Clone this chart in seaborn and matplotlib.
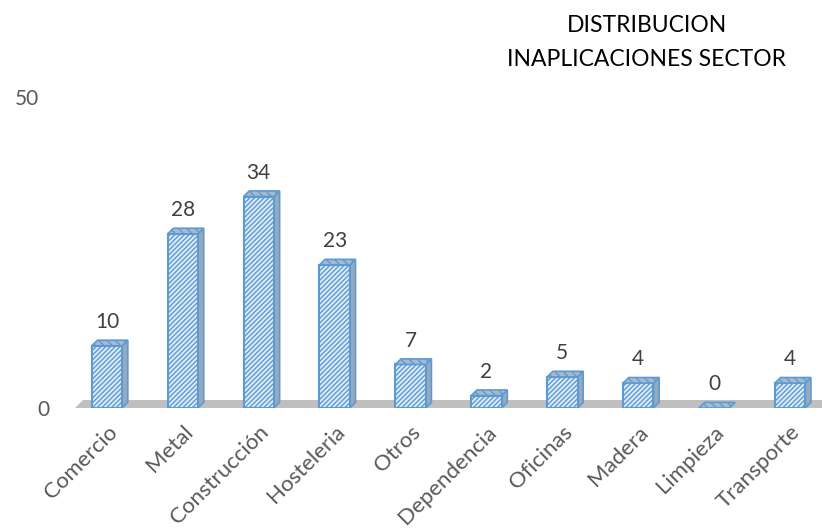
import numpy as np
import pandas as pd
import seaborn as sns
import matplotlib.pyplot as plt
from matplotlib.patches import Polygon
from matplotlib.transforms import ScaledTranslation, blended_transform_factory

sectores = ["Comercio", "Metal", "Construcción", "Hosteleria", "Otros",
            "Dependencia", "Oficinas", "Madera", "Limpieza", "Transporte"]
valores = [10, 28, 34, 23, 7, 2, 5, 4, 0, 4]
titulo = "DISTRIBUCION\nINAPLICACIONES SECTOR"

azul = "#5b9bd5"
relleno = "#deebf7"
gris_texto = "#595959"

sns.set_style("white")
plt.rcParams["font.family"] = ["Lato", "DejaVu Sans"]
plt.rcParams["hatch.linewidth"] = 1.0

df = pd.DataFrame({"sector": sectores, "valor": valores})

fig = plt.figure(figsize=(8.22, 5.29), dpi=100)
ax = fig.add_axes([69 / 822, (529 - 408) / 529, 759 / 822, 311 / 529])

sns.barplot(data=df, x="sector", y="valor", color=relleno, width=0.4,
            saturation=1, ax=ax, zorder=3)

# fake 3d depth for each bar
dx, dy = 0.075, 0.9
for p in ax.patches:
    p.set_edgecolor(azul)
    p.set_linewidth(1.5)
    p.set_hatch("///////")
    x0, w, h = p.get_x(), p.get_width(), p.get_height()
    top = [(x0, h), (x0 + w, h), (x0 + w + dx, h + dy), (x0 + dx, h + dy)]
    side = [(x0 + w, 0), (x0 + w + dx, dy), (x0 + w + dx, h + dy), (x0 + w, h)]
    ax.add_patch(Polygon(side, closed=True, facecolor="#9aa9b8", edgecolor=azul,
                         linewidth=1.2, zorder=2))
    ax.add_patch(Polygon(top, closed=True, facecolor="#a9b9cc", edgecolor=azul,
                         linewidth=1.2, hatch="\\\\\\\\", zorder=4))
    ax.annotate(f"{h:.0f}", (x0 + w / 2, h + dy), xytext=(0, 6),
                textcoords="offset points", ha="center", va="bottom",
                fontsize=15, color="#404040")

# gray floor
trans = blended_transform_factory(ax.transAxes, ax.transData)
floor = Polygon([(0.008, 0), (1, 0), (1, 1.3), (0.018, 1.3)], closed=True,
                facecolor="#bfbfbf", edgecolor="none", transform=trans, zorder=1)
ax.add_patch(floor)

ax.set_xlim(-0.5, 9.5)
ax.set_ylim(0, 50)
ax.set_yticks([0, 50])
ax.set_yticklabels(["0", "50"], fontsize=15, color=gris_texto)
ax.tick_params(axis="y", length=0, pad=2)
ylabs = ax.yaxis.get_ticklabels()
ylabs[1].set_transform(ylabs[1].get_transform() + ScaledTranslation(-0.27, 0, fig.dpi_scale_trans))
ylabs[0].set_transform(ylabs[0].get_transform() + ScaledTranslation(-0.17, 0, fig.dpi_scale_trans))

ax.set_xlabel("")
ax.set_ylabel("")
ax.tick_params(axis="x", length=0, pad=10)
for lab in ax.get_xticklabels():
    lab.set_rotation(45)
    lab.set_ha("right")
    lab.set_rotation_mode("anchor")
    lab.set_fontsize(16)
    lab.set_color(gris_texto)

sns.despine(ax=ax, left=True, bottom=True)
ax.grid(False)

fig.text(0.787, 0.972, titulo, ha="center", va="top", fontsize=16.5,
         color="black", linespacing=1.75)

fig.savefig("out.png", dpi=100)
